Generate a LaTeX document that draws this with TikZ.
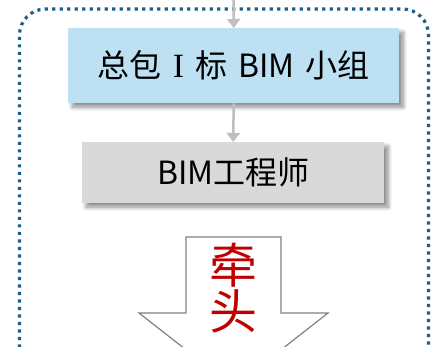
\documentclass[tikz,border=0pt]{standalone}
\usepackage{fontspec}
\newfontfamily\cjk{Noto Sans CJK SC}
\newfontfamily\serifI{Liberation Serif}
\usetikzlibrary{shadows.blur,arrows.meta}
\definecolor{frameblue}{RGB}{31,95,134}
\definecolor{boxblue}{RGB}{189,225,243}
\definecolor{boxgray}{RGB}{217,217,217}
\definecolor{linkgray}{RGB}{191,191,191}
\definecolor{arrowgray}{RGB}{128,128,128}
\definecolor{leadred}{RGB}{192,0,0}
\tikzset{
  unitbox/.style={draw=none, minimum height=#1, inner sep=0pt, font=\cjk\fontsize{32}{36}\selectfont,
    blur shadow={shadow xshift=4pt, shadow yshift=-4pt, shadow blur steps=8, shadow blur radius=4pt, shadow opacity=45}},
  link/.style={draw=linkgray, line width=2.5pt, -{Triangle[length=9pt,width=13pt]}}
}
\newcommand{\gapsp}{\hspace*{11pt}}
\begin{document}
\begin{tikzpicture}[x=1pt,y=1pt]
\useasboundingbox (0,0) rectangle (436,-347);
\clip (0,0) rectangle (436,-347);
% dotted frame
\draw[frameblue, line width=3.2pt, dash pattern=on 3.2pt off 4.3pt, rounded corners=26pt]
  (19.5,-400) -- (19.5,-9) -- (428.5,-9) -- (428.5,-400);
% boxes
\node[unitbox=75pt, fill=boxblue, minimum width=331pt, anchor=north west] (team) at (68,-28)
  {总包\gapsp{\serifI\fontsize{34}{36}\selectfont I}\gapsp 标\gapsp BIM\gapsp 小组};
\node[unitbox=61pt, fill=boxgray, minimum width=302pt, anchor=north west] (eng) at (82,-142)
  {BIM工程师};
\coordinate (topin) at (233.5,0);
\draw[link] (topin) -- (team.north);
\draw[link] (team.south) -- (eng.north);
% big down arrow
\draw[arrowgray, line width=1.2pt, fill=white]
  (186,-237) -- (281,-237) -- (281,-313) -- (328,-313) -- (233.5,-387) -- (139,-313) -- (186,-313) -- cycle;
\node[text=leadred, font=\cjk\fontsize{48}{50}\selectfont, align=center, inner sep=0pt] (lead) at (233.5,-288)
  {牵\\[-4pt]头};
\end{tikzpicture}
\end{document}
